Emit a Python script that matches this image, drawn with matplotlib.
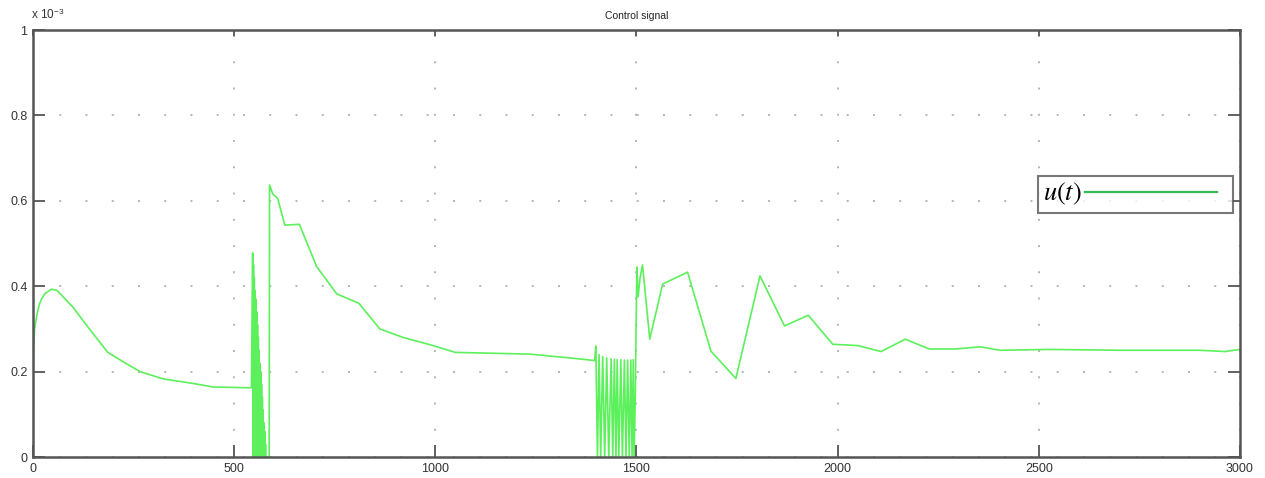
import matplotlib
matplotlib.use('Agg')
import matplotlib.pyplot as plt
from matplotlib.lines import Line2D

plt.rcParams['font.family'] = ['Liberation Sans', 'DejaVu Sans']
plt.rcParams['mathtext.fontset'] = 'stix'

# control signal, values in units of 1e-3
t = [0, 1, 4, 9, 15, 21, 30, 46, 60, 100, 140, 186, 226, 266, 323, 400, 448, 500, 543,
     546, 547, 548, 549, 550, 551, 552, 553, 554, 555, 556, 557, 558, 559, 560, 561, 562,
     563, 564, 565, 566, 567, 568, 569, 570, 571, 572, 573, 574, 575, 576, 577, 578, 579, 580,
     587, 588, 596, 608, 626, 662, 705, 755, 810, 862, 920, 987, 1050, 1235, 1335, 1396,
     1399, 1403, 1407, 1411, 1416, 1421, 1426, 1431, 1437, 1441, 1445, 1449, 1452, 1456,
     1461, 1465, 1470, 1474, 1478, 1482, 1486, 1489, 1492, 1494, 1497, 1499, 1501, 1504,
     1509, 1515, 1533, 1565, 1627, 1685, 1747, 1807, 1868, 1927, 1988, 2050, 2108, 2168,
     2228, 2292, 2329, 2354, 2404, 2528, 2700, 2900, 2963, 3000]
u = [0, 0.25, 0.30, 0.33, 0.355, 0.37, 0.383, 0.393, 0.39, 0.35, 0.30, 0.245, 0.222, 0.2, 0.183, 0.172, 0.164, 0.163, 0.162,
     0.478, 0, 0.45, 0, 0.42, 0, 0.39, 0, 0.37, 0, 0.34, 0, 0.31, 0, 0.28, 0, 0.25,
     0, 0.22, 0, 0.2, 0, 0.17, 0, 0.14, 0, 0.11, 0, 0.08, 0, 0.06, 0, 0.03, 0, 0,
     0, 0.637, 0.616, 0.606, 0.543, 0.545, 0.446, 0.382, 0.36, 0.30, 0.28, 0.263, 0.245, 0.241, 0.232, 0.226,
     0.26, 0, 0.24, 0, 0.235, 0, 0.232, 0, 0.23, 0, 0.229, 0, 0.228, 0,
     0.228, 0, 0.227, 0, 0.227, 0, 0.227, 0, 0.228, 0, 0.14, 0.3, 0.445, 0.375,
     0.42, 0.45, 0.276, 0.405, 0.433, 0.248, 0.184, 0.424, 0.307, 0.332, 0.264, 0.261, 0.247, 0.276,
     0.253, 0.253, 0.256, 0.258, 0.25, 0.252, 0.25, 0.25, 0.247, 0.252]

xticks = [0, 500, 1000, 1500, 2000, 2500, 3000]
yticks = [0, 0.2, 0.4, 0.6, 0.8, 1.0]
ytick_labels = ['0', '0.2', '0.4', '0.6', '0.8', '1']

fig = plt.figure(figsize=(12.65, 4.78), dpi=100)
ax = fig.add_axes([0.0261, 0.0439, 0.9541, 0.8933])

ax.plot(t, u, color='#5cf05c', lw=1.2)

ax.set_xlim(0, 3000)
ax.set_ylim(0, 1)
ax.set_xticks(xticks)
ax.set_yticks(yticks)
ax.set_yticklabels(ytick_labels)
ax.tick_params(direction='in', length=8.5, width=1.3, colors='#555555',
               labelcolor='#333333', labelsize=9, right=True, pad=4)
ax.tick_params(axis='x', top=True)
for tl in ax.xaxis.get_major_ticks():
    tl.tick2line.set_markersize(4)
for s in ax.spines.values():
    s.set_color('#555555')
    s.set_linewidth(1.8)
ax.grid(True, color='#b5b5b5', lw=1.4, linestyle=(0, (1.0, 12.5)))

ax.set_title('Control signal', fontsize=7.5, color='#222222', pad=8)
# exponent label, MATLAB style
fig.text(0.0245, 0.960, r'x 10$^{\mathregular{-3}}$', fontsize=8.5,
         color='#333333', va='baseline')

proxy = Line2D([], [], color='#33bb55', lw=1.6)
leg = ax.legend([proxy], [r'$u(t)$'], loc='upper left',
                bbox_to_anchor=(0.8326, 0.5504, 0.1616, 0.1078), mode='expand',
                markerfirst=False, fancybox=False, handlelength=5.0,
                fontsize=19, borderpad=0.2, handletextpad=0.1, borderaxespad=0)
leg.get_frame().set_edgecolor('#555555')
leg.get_frame().set_linewidth(1.5)

fig.savefig('out.png', dpi=100)
